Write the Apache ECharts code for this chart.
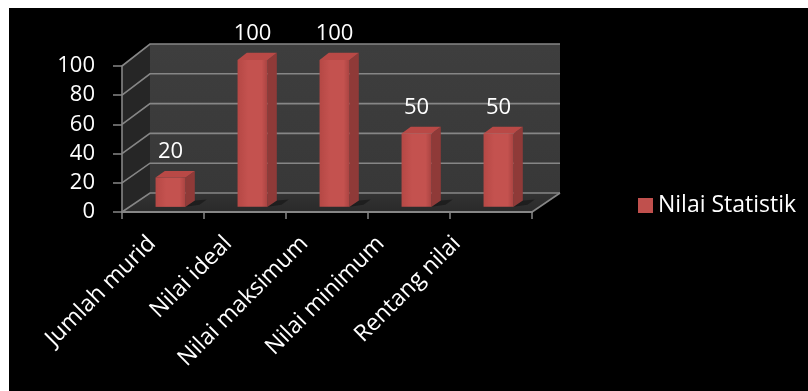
<!DOCTYPE html>
<html>
<head>
<meta charset="utf-8">
<script src="https://cdn.jsdelivr.net/npm/echarts@6/dist/echarts.min.js"></script>
<style>
  html, body { margin: 0; padding: 0; background: #fff; }
  #chart { position: absolute; left: 9px; top: 8px; width: 799px; height: 383px; }
</style>
</head>
<body>
<div id="chart"></div>
<script>
// Statistik nilai
const categories = ['Jumlah murid', 'Nilai ideal', 'Nilai maksimum', 'Nilai minimum', 'Rentang nilai'];
const values = [20, 100, 100, 50, 50];
const seriesName = 'Nilai Statistik';
const yTicks = [0, 20, 40, 60, 80, 100];

const FONT = '"Open Sans", "Noto Sans", sans-serif';
const DEPTH_X = 28;      // horizontal shift from front plane to back wall
const DEPTH_Y = 19;      // vertical shift from front plane to back wall
const BACK_SCALE = 0.0205; // back wall slightly taller (perspective)
const BAR_F0 = 0.27, BAR_F1 = 0.6; // bar front / back depth fraction
const BAR_W = 0.366;     // bar width as share of category band

// project a front-plane point (x, y) at depth fraction f
function proj(x, y, y0, f) {
  return [x + DEPTH_X * f, y0 - (y0 - y) * (1 + BACK_SCALE * f) - DEPTH_Y * f];
}

const chart = echarts.init(document.getElementById('chart'));

function renderWalls(params, api) {
  const cs = params.coordSys;
  const xL = cs.x, xR = cs.x + cs.width;
  const y0 = api.coord([0, 0])[1];
  const yMax = api.coord([0, yTicks[yTicks.length - 1]])[1];
  const children = [];
  const pt = (x, y, f) => proj(x, y, y0, f);
  // back wall
  children.push({
    type: 'polygon',
    shape: { points: [pt(xL, yMax, 1), pt(xR, yMax, 1), pt(xR, y0, 1), pt(xL, y0, 1)] },
    style: { fill: new echarts.graphic.LinearGradient(0, 0, 0, 1, [
      { offset: 0, color: '#3e3e3e' }, { offset: 1, color: '#383838' }]) }
  });
  // side wall
  children.push({
    type: 'polygon',
    shape: { points: [pt(xL, y0, 0), pt(xL, yMax, 0), pt(xL, yMax, 1), pt(xL, y0, 1)] },
    style: { fill: '#262626' }
  });
  // floor
  children.push({
    type: 'polygon',
    shape: { points: [pt(xL, y0, 0), pt(xR, y0, 0), pt(xR, y0, 1), pt(xL, y0, 1)] },
    style: { fill: new echarts.graphic.LinearGradient(0, 0, 0, 1, [
      { offset: 0, color: '#333333' }, { offset: 1, color: '#2a2a2a' }]) }
  });
  // gridlines on back wall and side wall
  yTicks.forEach(function (v) {
    const y = api.coord([0, v])[1];
    const a = pt(xL, y, 0), b = pt(xL, y, 1), c = pt(xR, y, 1);
    children.push({
      type: 'polyline',
      shape: { points: [a, b, c] },
      style: { stroke: '#868686', lineWidth: 1.6, fill: null }
    });
  });
  // right floor edge
  children.push({
    type: 'line',
    shape: { x1: xR, y1: y0, x2: pt(xR, y0, 1)[0], y2: pt(xR, y0, 1)[1] },
    style: { stroke: '#868686', lineWidth: 1.6 }
  });
  return { type: 'group', children: children };
}

function renderBar(params, api) {
  const idx = api.value(0), v = api.value(1);
  const top = api.coord([idx, v]);
  const y0 = api.coord([idx, 0])[1];
  const bw = api.size([1, 0])[0] * BAR_W;
  const xL = top[0] - bw / 2, xR = top[0] + bw / 2;
  const pt = (x, y, f) => proj(x, y, y0, f);
  const fl = pt(xL, y0, BAR_F0), fr = pt(xR, y0, BAR_F0);
  const tl = pt(xL, top[1], BAR_F0), tr = pt(xR, top[1], BAR_F0);
  const br = pt(xR, y0, BAR_F1), btr = pt(xR, top[1], BAR_F1), btl = pt(xL, top[1], BAR_F1);
  const cx = (tl[0] + tr[0]) / 2;
  return {
    type: 'group',
    children: [
      // floor shadow
      {
        type: 'polygon',
        shape: { points: [fr, [fr[0] + 14, fr[1] - 2], [br[0] + 12, br[1] - 1], br] },
        style: { fill: 'rgba(0,0,0,0.35)' }
      },
      {
        type: 'polygon',
        shape: { points: [fr, br, btr, tr] },
        style: { fill: '#8f3a38' }
      },
      {
        type: 'polygon',
        shape: { points: [tl, tr, btr, btl] },
        style: { fill: '#b94946' }
      },
      {
        type: 'polygon',
        shape: { points: [fl, fr, tr, tl] },
        style: { fill: new echarts.graphic.LinearGradient(0, 0, 1, 0, [
          { offset: 0, color: '#b54845' }, { offset: 0.35, color: '#c4524f' },
          { offset: 0.8, color: '#c4524f' }, { offset: 1, color: '#a94341' }]) }
      },
      {
        type: 'text',
        style: {
          x: cx, y: btl[1] - 19, text: String(v),
          fill: '#ffffff', font: '22px ' + FONT,
          align: 'center', verticalAlign: 'middle'
        }
      }
    ]
  };
}

const axisGray = '#868686';

chart.setOption({
  backgroundColor: '#000000',
  animation: false,
  legend: {
    data: [seriesName],
    left: 624, top: 181,
    icon: 'rect', itemWidth: 15, itemHeight: 15, itemGap: 5,
    textStyle: { color: '#ffffff', fontSize: 23, fontFamily: FONT }
  },
  grid: [
    { left: 113, top: 58, width: 410, height: 146 },
    { left: 105, top: 58, width: 381, height: 146 }
  ],
  xAxis: [
    {
      type: 'category', gridIndex: 0, data: categories, z: 5,
      axisLine: { lineStyle: { color: axisGray, width: 2 } },
      axisTick: { show: true, interval: 0, length: 7, lineStyle: { color: axisGray, width: 1.5 } },
      axisLabel: { show: false },
      splitLine: { show: false }
    },
    {
      type: 'category', gridIndex: 1, data: categories,
      axisLine: { show: false }, axisTick: { show: false },
      axisLabel: {
        interval: 0, rotate: 45, margin: 28,
        color: '#ffffff', fontSize: 23, fontFamily: FONT
      }
    }
  ],
  yAxis: [
    {
      type: 'value', gridIndex: 0, min: 0, max: 100, interval: 20, z: 5,
      axisLine: { show: true, lineStyle: { color: axisGray, width: 1.6 } },
      axisTick: { show: true, length: 9, lineStyle: { color: axisGray, width: 1.5 } },
      axisLabel: { color: '#ffffff', fontSize: 22, fontFamily: FONT, margin: 27, padding: [5, 0, 0, 0] },
      splitLine: { show: false }
    },
    {
      type: 'value', gridIndex: 1, min: 0, max: 100, show: false
    }
  ],
  series: [
    {
      type: 'custom', name: '_walls', xAxisIndex: 0, yAxisIndex: 0, z: 1,
      silent: true, renderItem: renderWalls, data: [[0, 0]]
    },
    {
      type: 'custom', name: seriesName, xAxisIndex: 0, yAxisIndex: 0, z: 3,
      itemStyle: { color: '#c0504d' },
      renderItem: renderBar,
      data: values.map(function (v, i) { return [i, v]; })
    }
  ]
});
</script>
</body>
</html>
